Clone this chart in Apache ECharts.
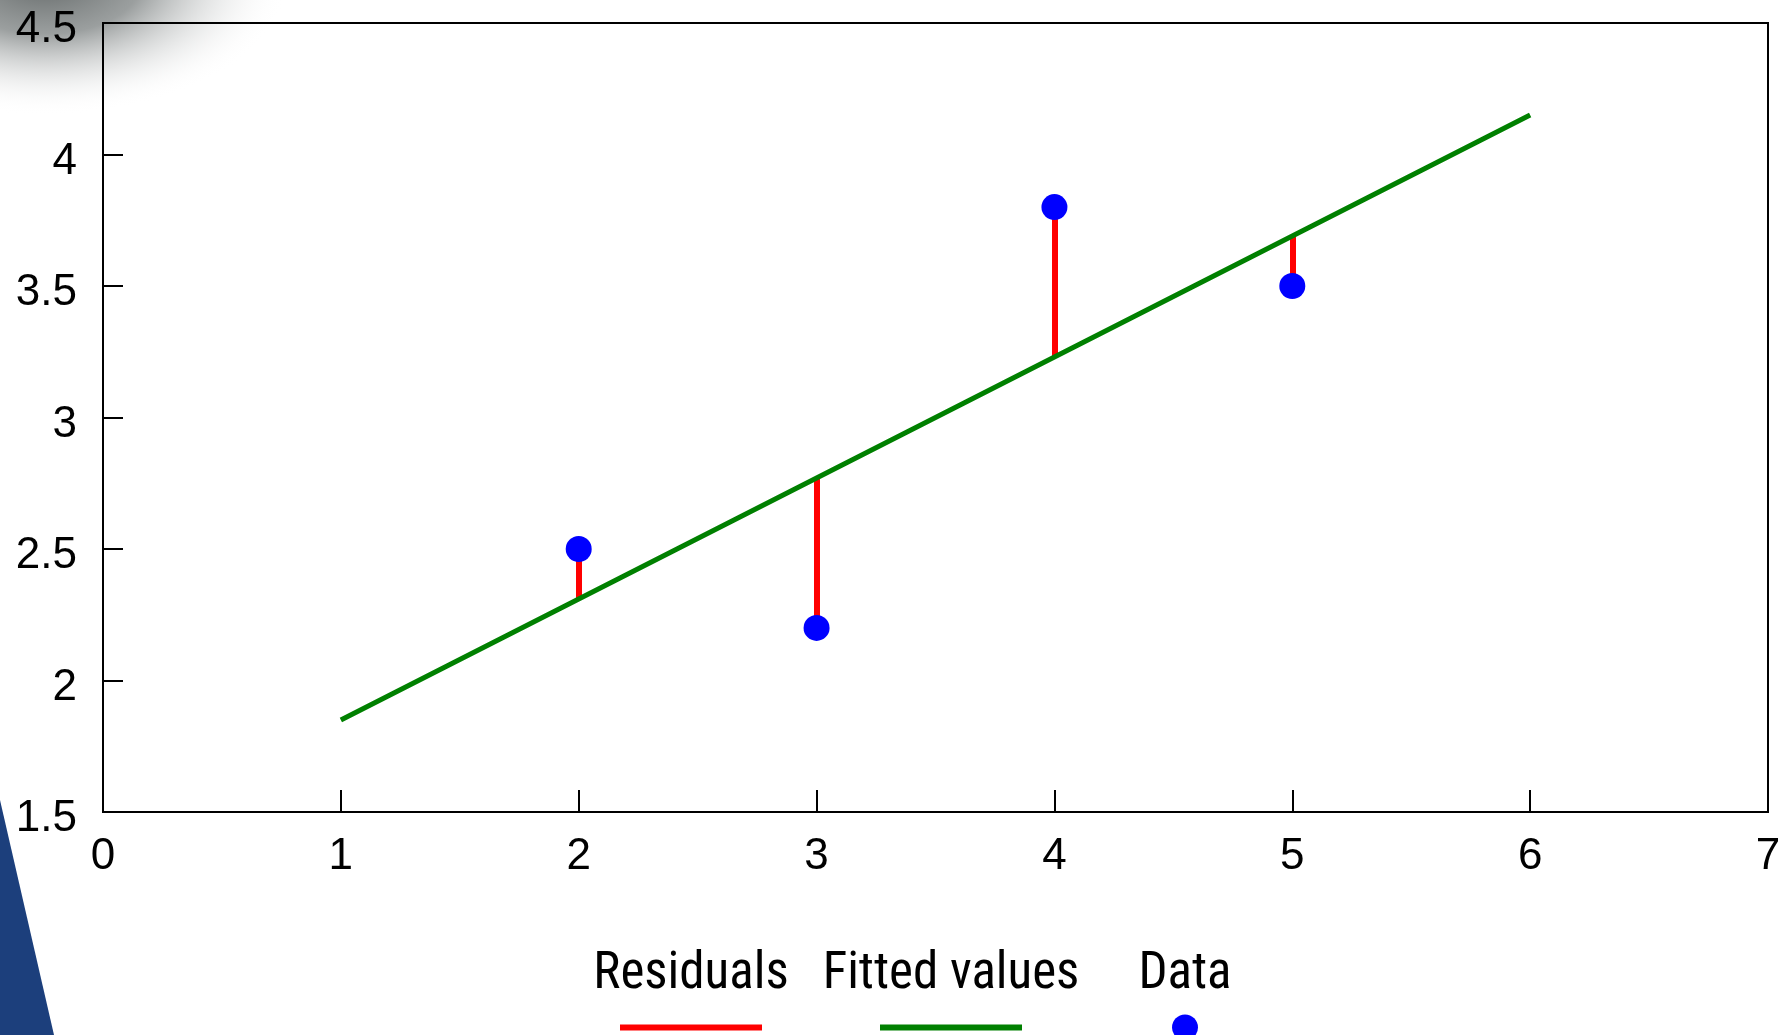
<!DOCTYPE html>
<html>
<head>
<meta charset="utf-8">
<title>Residuals</title>
<script src="https://cdn.jsdelivr.net/npm/echarts@6/dist/echarts.min.js"></script>
<style>
  html, body { margin: 0; padding: 0; background: #fff; }
  #main { width: 1785px; height: 1035px; }
</style>
</head>
<body>
<div id="main"></div>
<script>
// data points
var dataX = [2, 3, 4, 5];
var dataY = [2.5, 2.2, 3.8, 3.5];
var fitX = [1, 2, 3, 4, 5, 6];
var fitY = [1.85, 2.31, 2.77, 3.23, 3.69, 4.15];
// tick labels
var xTicks = [0, 1, 2, 3, 4, 5, 6, 7];
var yTicks = [1.5, 2, 2.5, 3, 3.5, 4, 4.5];

var tickFont = "'Liberation Sans', Arial, sans-serif";
var legendFont = "'Roboto Condensed', 'Liberation Sans', sans-serif";

var myChart = echarts.init(document.getElementById('main'));

// residual segments: from each point to the fitted value at the same x
var residualData = dataX.map(function (x, i) {
    var fi = fitX.indexOf(x);
    return { coords: [[x, dataY[i]], [x, fitY[fi]]] };
});

// one legend per item: text on top, key drawn underneath
function legendItem(name, key, left) {
    return {
        data: [name],
        left: left,
        top: 950,
        padding: 0,
        itemWidth: 0,
        itemHeight: 0,
        icon: 'none',
        selectedMode: false,
        formatter: function (n) { return '{t|' + n + '}\n{' + key + '|}'; },
        textStyle: {
            rich: {
                t: { fontFamily: legendFont, fontSize: 51, color: '#000', width: 300, align: 'center', lineHeight: 70 },
                r: { width: 142, height: 6, backgroundColor: '#ff0000', align: 'center', lineHeight: 34 },
                g: { width: 142, height: 6, backgroundColor: '#008000', align: 'center', lineHeight: 34 },
                d: { width: 26, height: 26, borderRadius: 13, backgroundColor: '#0000ff', align: 'center', lineHeight: 34 }
            }
        }
    };
}

myChart.setOption({
    backgroundColor: '#fff',
    animation: false,
    graphic: [
        { // gray shadow, top left corner
            type: 'circle',
            z: -10,
            silent: true,
            x: 45, y: -20,
            scaleX: 1.8,
            shape: { cx: 0, cy: 0, r: 135 },
            style: {
                fill: new echarts.graphic.RadialGradient(0.5, 0.5, 0.5, [
                    { offset: 0, color: 'rgba(100,105,105,1)' },
                    { offset: 0.4, color: 'rgba(130,135,135,0.8)' },
                    { offset: 1, color: 'rgba(255,255,255,0)' }
                ])
            }
        },
        { // blue slide corner, bottom left
            type: 'polygon',
            z: -10,
            silent: true,
            shape: { points: [[0, 800], [54, 1035], [0, 1035]] },
            style: { fill: '#1c3f7c' }
        }
    ],
    grid: {
        left: 103,
        right: 17,
        top: 23,
        bottom: 223,
        show: true,
        borderColor: '#000',
        borderWidth: 2,
        backgroundColor: 'transparent'
    },
    xAxis: {
        type: 'value',
        min: xTicks[0],
        max: xTicks[xTicks.length - 1],
        interval: 1,
        splitLine: { show: false },
        axisLine: { lineStyle: { color: '#000', width: 2 } },
        axisTick: { inside: true, length: 22, lineStyle: { color: '#000', width: 2 } },
        axisLabel: { color: '#000', fontSize: 44, fontFamily: tickFont, margin: 23 }
    },
    yAxis: {
        type: 'value',
        min: yTicks[0],
        max: yTicks[yTicks.length - 1],
        interval: 0.5,
        splitLine: { show: false },
        axisLine: { lineStyle: { color: '#000', width: 2 } },
        axisTick: { inside: true, length: 20, lineStyle: { color: '#000', width: 2 } },
        // labels sit a little below their ticks in the original
        axisLabel: { color: '#000', fontSize: 44, fontFamily: tickFont, margin: 26, verticalAlign: 'top', lineHeight: 14 }
    },
    legend: [
        legendItem('Residuals', 'r', 536),
        legendItem('Fitted values', 'g', 796),
        legendItem('Data', 'd', 1030)
    ],
    series: [{
        name: 'Residuals',
        type: 'lines',
        coordinateSystem: 'cartesian2d',
        z: 2,
        lineStyle: { color: '#ff0000', width: 6, opacity: 1 },
        data: residualData
    }, {
        name: 'Fitted values',
        type: 'line',
        z: 3,
        showSymbol: false,
        color: '#008000',
        lineStyle: { width: 5, color: '#008000' },
        data: fitX.map(function (x, i) { return [x, fitY[i]]; })
    }, {
        name: 'Data',
        type: 'scatter',
        z: 4,
        symbolSize: 26,
        itemStyle: { color: '#0000ff', opacity: 1 },
        data: dataX.map(function (x, i) { return [x, dataY[i]]; })
    }]
});
</script>
</body>
</html>
